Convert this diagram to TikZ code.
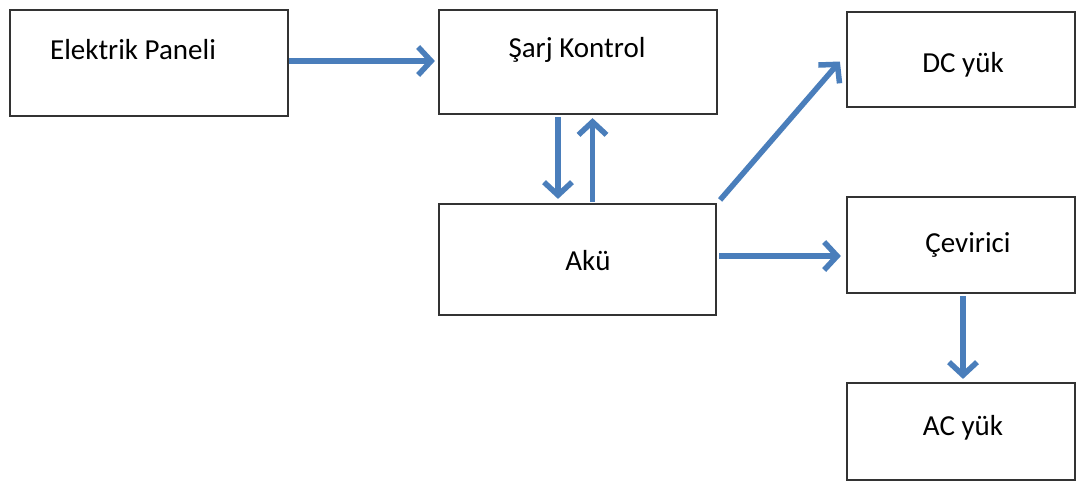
\documentclass[tikz,border=0pt]{standalone}
\usepackage{fontspec}
\setmainfont{Carlito}
\usetikzlibrary{arrows.meta}
\definecolor{arrowblue}{HTML}{4A7EBB}
\definecolor{boxline}{HTML}{333333}
\tikzset{
  box/.style={draw=boxline, line width=2.2pt, fill=white, rectangle, inner sep=0pt},
  lbl/.style={font=\fontsize{29}{34}\selectfont, text=black, inner sep=0pt},
  flow/.style={draw=arrowblue, line width=5.5pt,
    -{Straight Barb[length=13pt,width=28pt,line width=5.5pt]}}
}
\begin{document}
\begin{tikzpicture}[x=1pt,y=-1pt]
\fill[white] (0,0) rectangle (1077,482);
\useasboundingbox (0,0) rectangle (1077,482);
% boxes
\node[box, minimum width=278pt, minimum height=106pt] (E) at (149,63) {};
\node[box, minimum width=278pt, minimum height=104pt] (S) at (578,62) {};
\node[box, minimum width=277pt, minimum height=111pt] (A) at (577.5,259.5) {};
\node[box, minimum width=228pt, minimum height=95pt] (DC) at (961,59.5) {};
\node[box, minimum width=228pt, minimum height=96pt] (C) at (961,245) {};
\node[box, minimum width=228pt, minimum height=97pt] (AC) at (961,431.5) {};
% labels
\node[lbl, anchor=base west] (tE) at (50,59) {Elektrik Paneli};
\node[lbl, anchor=base] (tS) at (577,57) {Şarj Kontrol};
\node[lbl, anchor=base] (tA) at (588,270) {Akü};
\node[lbl, anchor=base] (tDC) at (963,72) {DC yük};
\node[lbl, anchor=base] (tC) at (968,252) {Çevirici};
\node[lbl, anchor=base] (tAC) at (963,435) {AC yük};
% connectors
\draw[flow] ([yshift=2pt]E.east) -- ([yshift=2pt,xshift=-3pt]E.east -| S.west);
\draw[flow] ([xshift=-20pt,yshift=-2pt]S.south) -- ([xshift=-20pt,yshift=4pt]S.south |- A.north);
\draw[flow] ([xshift=15pt,yshift=1pt]A.north) -- ([xshift=15pt,yshift=-3pt]A.north |- S.south);
\draw[flow] ([xshift=3pt,yshift=3pt]A.north east) -- ([xshift=-6pt,yshift=-2pt]DC.west);
\draw[flow] ([xshift=2pt,yshift=3.5pt]A.east) -- ([yshift=3.5pt,xshift=-5pt]A.east -| C.west);
\draw[flow] ([xshift=2pt,yshift=-2pt]C.south) -- ([xshift=2pt,yshift=3pt]C.south |- AC.north);
\end{tikzpicture}
\end{document}
